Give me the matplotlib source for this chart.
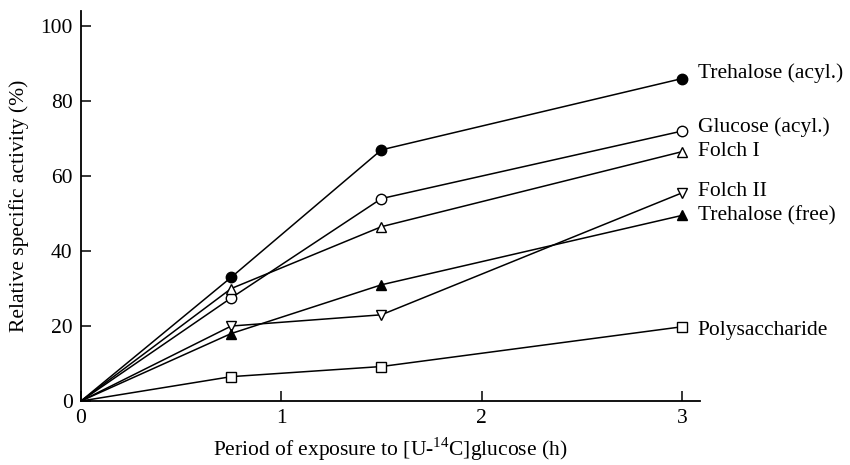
import matplotlib
matplotlib.use('Agg')
import matplotlib.pyplot as plt

# Data
hours = [0, 0.75, 1.5, 3]
trehalose_acyl = [0, 33, 67, 86]
glucose_acyl = [0, 27.5, 54, 72]
folch_1 = [0, 30, 46.5, 66.5]
folch_2 = [0, 20, 23, 55.5]
trehalose_free = [0, 18, 31, 49.5]
polysaccharide = [0, 6.5, 9.2, 19.8]

names = ['Trehalose (acyl.)', 'Glucose (acyl.)', 'Folch I', 'Folch II',
         'Trehalose (free)', 'Polysaccharide']
series = [trehalose_acyl, glucose_acyl, folch_1, folch_2, trehalose_free, polysaccharide]
markers = ['o', 'o', '^', 'v', '^', 's']
filled = [True, False, False, False, True, False]
label_y = [87.5, 73, 66.5, 56, 49.5, 18.8]

plt.rcParams['font.family'] = ['Liberation Serif', 'DejaVu Serif']
plt.rcParams['mathtext.fontset'] = 'custom'
plt.rcParams['mathtext.rm'] = 'Liberation Serif'

fs = 15.5
fig = plt.figure(figsize=(8.5, 4.65), dpi=100)
ax = fig.add_axes([0.0953, 0.1376, 0.728, 0.8384])

for vals, m, f, name, ly in zip(series, markers, filled, names, label_y):
    ax.plot(hours, vals, color='black', lw=1.1, zorder=2)
    ax.plot(hours[1:], vals[1:], linestyle='none', marker=m, markersize=7.5,
            markerfacecolor='black' if f else 'white', markeredgecolor='black',
            markeredgewidth=1.0, zorder=3)
    ax.text(3.08, ly, name, fontsize=fs, va='center', ha='left')

ax.set_xlim(0, 3.09)
ax.set_ylim(0, 104)
ax.set_xticks([0, 1, 2, 3])
ax.set_yticks([0, 20, 40, 60, 80, 100])
ax.tick_params(direction='in', length=7, width=1.1, labelsize=fs)
ax.tick_params(axis='x', pad=6)
ax.tick_params(axis='y', pad=6)
for s in ['top', 'right']:
    ax.spines[s].set_visible(False)
for s in ['left', 'bottom']:
    ax.spines[s].set_linewidth(1.3)

ax.set_ylabel('Relative specific activity (%)', fontsize=fs, labelpad=8)
ax.set_xlabel('Period of exposure to [U-$^{14}$C]glucose (h)', fontsize=fs, labelpad=5)

fig.savefig('out.png', dpi=100)
